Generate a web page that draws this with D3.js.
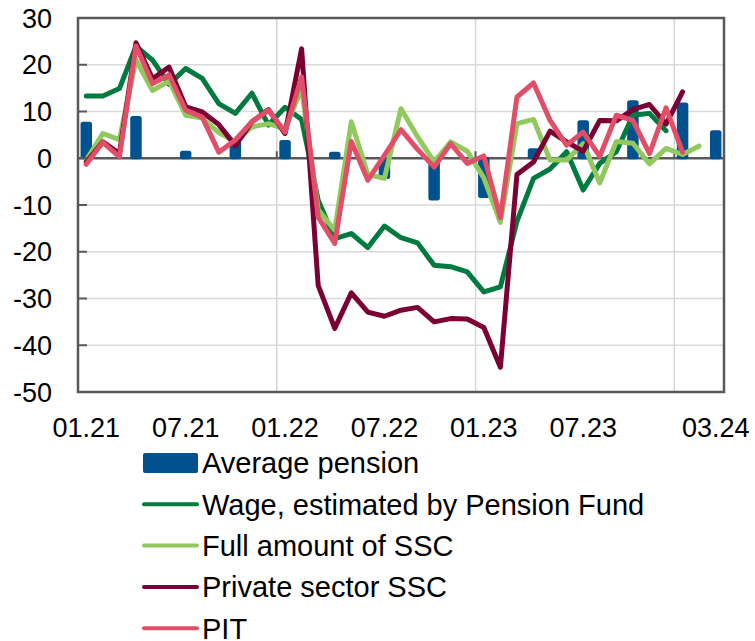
<!DOCTYPE html>
<html>
<head>
<meta charset="utf-8">
<script src="https://cdn.jsdelivr.net/npm/d3@7"></script>
<style>
  body { margin: 0; background: #fff; }
  svg text { font-family: "Liberation Sans", Arial, sans-serif; fill: #000; }
</style>
</head>
<body>
<div id="chart"></div>
<script>
//////////////////////////////////////////////////////////////
///////////////////////// Data ///////////////////////////////
//////////////////////////////////////////////////////////////

var months = ["01.21","02.21","03.21","04.21","05.21","06.21","07.21","08.21","09.21","10.21","11.21","12.21",
              "01.22","02.22","03.22","04.22","05.22","06.22","07.22","08.22","09.22","10.22","11.22","12.22",
              "01.23","02.23","03.23","04.23","05.23","06.23","07.23","08.23","09.23","10.23","11.23","12.23",
              "01.24","02.24","03.24"];

var tickLabels = ["01.21","07.21","01.22","07.22","01.23","07.23","03.24"];
var yTicks = [30, 20, 10, 0, -10, -20, -30, -40, -50];

// Average pension (bars, quarterly + last month)
var pension = [7.6,null,null,8.8,null,null,1.4,null,null,3.5,null,null,
               3.7,null,null,1.2,null,null,-4.2,null,null,-8.8,null,null,
               -8.3,null,null,1.9,null,null,7.9,null,null,12.2,null,null,
               11.7,null,5.8];

var wage = [13.3,13.3,14.9,24.0,21.0,15.8,19.2,17.1,11.7,9.6,13.9,7.1,
            10.9,8.3,-9.0,-17.2,-16.1,-19.1,-14.5,-17.0,-18.1,-22.9,-23.2,-24.3,
            -28.6,-27.5,-13.5,-4.3,-2.3,1.4,-6.8,-1.1,1.4,9.2,9.6,5.9,
            null,null,null];

var fullSSC = [-0.4,5.3,4.0,21.0,14.5,16.5,9.2,8.6,5.5,3.5,6.7,7.4,
               6.3,14.9,-11.0,-15.4,7.8,-3.5,-4.3,10.6,4.6,-0.8,3.5,1.5,
               -4.2,-13.7,7.4,8.3,-0.4,-0.4,3.1,-5.3,3.6,3.2,-1.2,2.1,
               0.8,2.6,null];

var privateSSC = [-0.8,3.5,1.0,24.7,17.0,19.5,11.0,9.9,7.2,2.7,7.8,10.4,
                  5.3,23.4,-27.2,-36.4,-28.8,-32.9,-33.8,-32.5,-31.9,-35.0,-34.3,-34.4,
                  -36.2,-44.7,-3.5,-0.8,5.8,3.5,1.5,8.1,8.0,10.4,11.5,7.3,
                  14.2,null,null];

var pit = [-1.3,3.4,0.3,24.0,16.0,17.8,10.3,8.8,1.3,3.9,7.8,10.3,
           5.6,17.4,-12.6,-18.2,3.6,-4.7,0.6,6.1,1.9,-1.9,3.1,-1.1,
           0.5,-12.7,13.1,16.1,8.1,2.8,5.6,0.4,9.2,8.1,1.0,10.8,
           1.3,null,null];

var lineSeries = [
    {name: "Wage, estimated by Pension Fund", values: wage, color: "#007a3e"},
    {name: "Full amount of SSC", values: fullSSC, color: "#92c95e"},
    {name: "Private sector SSC", values: privateSSC, color: "#7b0033"},
    {name: "PIT", values: pit, color: "#e04e67"}
];
var barColor = "#00528f";

//////////////////////////////////////////////////////////////
/////////////////////// Settings /////////////////////////////
//////////////////////////////////////////////////////////////

var width = 755, height = 641;
var plot = {left: 78, right: 724, top: 18, bottom: 392};
var axisColor = "#595959";
var gridColor = "#d9d9d9";

var svg = d3.select("#chart").append("svg")
    .attr("width", width)
    .attr("height", height);

var xScale = d3.scaleBand().domain(months).range([plot.left, plot.right]);
var yScale = d3.scaleLinear().domain([-50, 30]).range([plot.bottom, plot.top]);
var xc = function(m) { return xScale(m) + xScale.bandwidth() / 2; };

//////////////////////////////////////////////////////////////
///////////////////////// Grid ///////////////////////////////
//////////////////////////////////////////////////////////////

//Horizontal gridlines
svg.append("g").selectAll("line")
    .data(yTicks.filter(function(d) { return d !== 0 && d !== 30 && d !== -50; }))
    .enter().append("line")
        .attr("x1", plot.left).attr("x2", plot.right)
        .attr("y1", function(d) { return yScale(d); })
        .attr("y2", function(d) { return yScale(d); })
        .attr("stroke", gridColor)
        .attr("stroke-width", 1.5);

//Vertical gridlines at year boundaries
var yearStarts = months.filter(function(m, i) { return i > 0 && m.slice(0, 2) === "01"; });
svg.append("g").selectAll("line")
    .data(yearStarts).enter()
    .append("line")
        .attr("x1", function(d) { return xScale(d); })
        .attr("x2", function(d) { return xScale(d); })
        .attr("y1", plot.top).attr("y2", plot.bottom)
        .attr("stroke", "#d3d7db")
        .attr("stroke-width", 1.5);

//Zero line with small ticks
svg.append("line")
    .attr("x1", plot.left).attr("x2", plot.right)
    .attr("y1", yScale(0)).attr("y2", yScale(0))
    .attr("stroke", axisColor)
    .attr("stroke-width", 2.5);

svg.append("g").selectAll("line")
    .data(yearStarts).enter()
    .append("line")
        .attr("x1", function(d) { return xScale(d); })
        .attr("x2", function(d) { return xScale(d); })
        .attr("y1", yScale(0) - 7).attr("y2", yScale(0))
        .attr("stroke", axisColor)
        .attr("stroke-width", 2);

//////////////////////////////////////////////////////////////
///////////////////////// Bars ///////////////////////////////
//////////////////////////////////////////////////////////////

var barW = 11.5;
svg.append("g").selectAll("rect")
    .data(months.map(function(m, i) { return {m: m, v: pension[i]}; })
        .filter(function(d) { return d.v !== null; }))
    .enter().append("rect")
        .attr("x", function(d) { return xc(d.m) - barW / 2; })
        .attr("y", function(d) { return Math.min(yScale(d.v), yScale(0)) - 1; })
        .attr("width", barW)
        .attr("height", function(d) { return Math.abs(yScale(d.v) - yScale(0)) + 2; })
        .attr("rx", 2.5)
        .attr("fill", barColor);

//////////////////////////////////////////////////////////////
///////////////////////// Lines //////////////////////////////
//////////////////////////////////////////////////////////////

var line = d3.line()
    .defined(function(d) { return d.v !== null; })
    .x(function(d) { return xc(d.m); })
    .y(function(d) { return yScale(d.v); });

svg.append("g").selectAll("path")
    .data(lineSeries).enter()
    .append("path")
        .attr("d", function(s) {
            return line(months.map(function(m, i) { return {m: m, v: s.values[i]}; }));
        })
        .attr("fill", "none")
        .attr("stroke", function(s) { return s.color; })
        .attr("stroke-width", 5)
        .attr("stroke-linejoin", "round")
        .attr("stroke-linecap", "round");

//////////////////////////////////////////////////////////////
///////////////////////// Axes ///////////////////////////////
//////////////////////////////////////////////////////////////

//Frame
svg.append("rect")
    .attr("x", plot.left).attr("y", plot.top)
    .attr("width", plot.right - plot.left)
    .attr("height", plot.bottom - plot.top)
    .attr("fill", "none")
    .attr("stroke", axisColor)
    .attr("stroke-width", 2.5);

//Y ticks (inward) and labels
svg.append("g").selectAll("line")
    .data(yTicks.filter(function(d) { return d !== 30 && d !== -50; })).enter()
    .append("line")
        .attr("x1", plot.left).attr("x2", plot.left + 9)
        .attr("y1", function(d) { return yScale(d); })
        .attr("y2", function(d) { return yScale(d); })
        .attr("stroke", axisColor)
        .attr("stroke-width", 2);

svg.append("g").selectAll("text")
    .data(yTicks).enter()
    .append("text")
        .attr("x", 52)
        .attr("y", function(d) { return yScale(d); })
        .attr("dy", "0.36em")
        .attr("text-anchor", "end")
        .style("font-size", "27px")
        .text(function(d) { return d; });

//X labels
svg.append("g").selectAll("text")
    .data(tickLabels).enter()
    .append("text")
        .attr("x", function(d) { return xc(d); })
        .attr("y", 437)
        .attr("text-anchor", "middle")
        .style("font-size", "27px")
        .text(function(d) { return d; });

//////////////////////////////////////////////////////////////
//////////////////////// Legend //////////////////////////////
//////////////////////////////////////////////////////////////

var legendItems = [{name: "Average pension", color: barColor, bar: true}].concat(lineSeries);
var legendX = 143, legendY = 463, legendStep = 41.3;

var legend = svg.append("g").selectAll("g")
    .data(legendItems).enter()
    .append("g")
        .attr("transform", function(d, i) { return "translate(" + legendX + "," + (legendY + i * legendStep) + ")"; });

legend.filter(function(d) { return d.bar; })
    .append("rect")
        .attr("x", 0).attr("y", -10)
        .attr("width", 55).attr("height", 20)
        .attr("rx", 2)
        .attr("fill", function(d) { return d.color; });

legend.filter(function(d) { return !d.bar; })
    .append("line")
        .attr("x1", 1).attr("x2", 54)
        .attr("stroke", function(d) { return d.color; })
        .attr("stroke-width", 4)
        .attr("stroke-linecap", "round");

legend.append("text")
    .attr("x", 59)
    .attr("dy", "0.36em")
    .style("font-size", "29px")
    .text(function(d) { return d.name; });
</script>
</body>
</html>
